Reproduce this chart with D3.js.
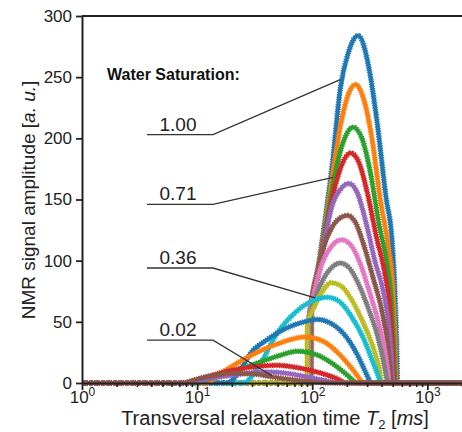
<!DOCTYPE html>
<html>
<head>
<meta charset="utf-8">
<script src="https://cdn.jsdelivr.net/npm/d3@7"></script>
<style>
  body { margin: 0; background: #fff; }
  text { font-family: "Liberation Sans", Arial, sans-serif; }
</style>
</head>
<body>
<div id="chart"></div>
<script>
// Data: each curve is a list of [T2 (ms), amplitude (a.u.)]
const curve01 = [[1,0],[98,0],[99,62],[115,100],[130,135],[150,180],[175,240],[206,270],[250,284],[313,256],[364,215],[440,150],[490,120],[520,80],[540,35],[552,0],[2000,0]]
const curve02 = [[1,0],[97,0],[98,60],[115,98],[130,130],[150,170],[180,215],[206,236],[237,244],[280,232],[330,200],[390,150],[460,110],[500,80],[522,40],[538,0],[2000,0]]
const curve03 = [[1,0],[96,0],[97,58],[115,96],[130,126],[150,160],[180,193],[227,209],[270,200],[320,172],[380,130],[450,95],[490,65],[512,30],[525,0],[2000,0]]
const curve04 = [[1,0],[95,0],[96,56],[115,94],[130,122],[150,152],[180,178],[215,188],[255,180],[300,156],[360,120],[430,88],[475,60],[500,28],[515,0],[2000,0]]
const curve05 = [[1,0],[94,0],[95,54],[115,92],[130,120],[150,146],[175,158],[208,163],[245,156],[290,133],[350,100],[420,72],[465,45],[490,18],[503,0],[2000,0]]
const curve06 = [[1,0],[93,0],[94,52],[110,86],[125,110],[150,128],[175,135],[202,137],[235,132],[280,113],[340,85],[405,58],[450,33],[475,12],[488,0],[2000,0]]
const curve07 = [[1,0],[92,0],[93,50],[105,76],[120,96],[145,111],[180,117],[215,113],[260,98],[320,72],[380,48],[430,25],[455,8],[465,0],[2000,0]]
const curve08 = [[1,0],[91,0],[92,48],[105,68],[125,85],[150,95],[175,98],[210,94],[255,80],[310,60],[370,38],[415,18],[440,5],[450,0],[2000,0]]
const curve09 = [[1,0],[90,0],[91,47],[105,63],[125,76],[145,82],[180,79],[220,68],[275,50],[330,32],[380,13],[405,0],[2000,0]]
const curve10 = [[1,0],[25,0],[35,15],[49,40],[70,57],[100,67],[135,70],[175,66],[220,54],[280,36],[340,16],[380,4],[392,0],[2000,0]]
const curve11 = [[1,0],[18,0],[25,14],[29,24],[40,35],[60,45],[85,50],[110,52],[150,48],[200,37],[250,22],[290,9],[315,2],[330,0],[2000,0]]
const curve12 = [[1,0],[12,0],[16,8],[19.5,13],[30,23],[50,32],[87,37.6],[125,34],[170,24],[220,12],[260,3],[277,0],[2000,0]]
const curve13 = [[1,0],[10,0],[14,5],[20,9],[35,17],[50,22],[75,26],[110,23],[160,14],[210,5],[245,0],[2000,0]]
const curve14 = [[1,0],[8,0],[11,4],[15,7.5],[20.6,10.6],[30,13],[49,14.5],[80,12],[120,8],[160,4],[200,0],[2000,0]]
const curve15 = [[1,0],[8,0],[11,2.5],[16,5],[25,7.5],[40,9],[60,8],[90,5],[130,2],[170,0],[2000,0]]
const curve16 = [[1,0],[7.5,0],[9,2],[12,5],[16,7],[20,8],[30,7.5],[45,5],[70,2.5],[110,0.5],[140,0],[2000,0]]
const curves = [curve01, curve02, curve03, curve04, curve05, curve06, curve07, curve08,
                curve09, curve10, curve11, curve12, curve13, curve14, curve15, curve16]

// Annotation: label text, level of its underline (a.u.), point it aims at [T2, a.u.]
const satLabels = ['1.00', '0.71', '0.36', '0.02']
const satLevels = [203, 146, 94, 35]
const satTargets = [[175, 248], [152, 168], [106, 69.5], [45, 5.7]]

const yTicks = [0, 50, 100, 150, 200, 250, 300]
const xMajorTicks = [1, 10, 100, 1000]

// Dimensions
const width = 462
const height = 432
const plot = { left: 82, top: 16, right: 462, bottom: 383 }

const svg = d3.select('#chart')
  .append('svg')
  .attr('width', width)
  .attr('height', height)

// Scales
const xScale = d3.scaleLog()
  .domain([1, 2000])
  .range([plot.left, plot.right])

const yScale = d3.scaleLinear()
  .domain([0, 300])
  .range([plot.bottom, plot.top])

const color = d3.scaleOrdinal(d3.schemeCategory10)

svg.append('clipPath').attr('id', 'clip')
  .append('rect')
  .attr('x', plot.left).attr('y', plot.top - 4)
  .attr('width', plot.right - plot.left).attr('height', plot.bottom - plot.top + 8)

// Curves
const line = d3.line()
  .x(d => xScale(d[0]))
  .y(d => yScale(d[1]))
  .curve(d3.curveMonotoneX)

const curveGroup = svg.append('g').attr('clip-path', 'url(#clip)')
curves.forEach((c, i) => {
  // star markers give a ragged edge: dashed wide stroke under a solid one
  curveGroup.append('path')
    .datum(c)
    .attr('d', line)
    .attr('fill', 'none')
    .attr('stroke', color(i % 10))
    .attr('stroke-width', 5.6)
    .attr('stroke-dasharray', '1.2,1.2')
  curveGroup.append('path')
    .datum(c)
    .attr('d', line)
    .attr('fill', 'none')
    .attr('stroke', color(i % 10))
    .attr('stroke-width', 4)
    .attr('stroke-linejoin', 'round')
})

// Axes
const axisColor = '#222'

const xMinor = []
for (let e = 0; e < 4; e++) {
  for (let m = 2; m <= 9; m++) {
    const v = m * Math.pow(10, e)
    if (v <= 2000) xMinor.push(v)
  }
}

svg.append('g')
  .attr('transform', `translate(0, ${plot.bottom})`)
  .call(d3.axisBottom(xScale).tickValues(xMinor).tickSize(4).tickSizeOuter(0).tickFormat(''))
  .call(g => g.select('.domain').remove())
  .call(g => g.selectAll('line').attr('stroke', axisColor).attr('stroke-width', 1.6))

const xAxisGroup = svg.append('g')
  .attr('transform', `translate(0, ${plot.bottom})`)
  .call(d3.axisBottom(xScale).tickValues(xMajorTicks).tickSize(7).tickSizeOuter(0).tickPadding(4))
xAxisGroup.select('.domain').attr('stroke', axisColor).attr('stroke-width', 2)
xAxisGroup.selectAll('line').attr('stroke', axisColor).attr('stroke-width', 1.8)
xAxisGroup.selectAll('text')
  .attr('fill', '#222')
  .attr('font-size', 17)
  .attr('dy', '0.55em')
  .each(function (d) {
    const t = d3.select(this)
    t.text('')
    t.append('tspan').text('10')
    t.append('tspan').attr('dy', -7).attr('font-size', 12).text(Math.round(Math.log10(d)))
  })

const yAxisGroup = svg.append('g')
  .attr('transform', `translate(${plot.left}, 0)`)
  .call(d3.axisLeft(yScale).tickValues(yTicks).tickSize(6).tickSizeOuter(0).tickPadding(4))
yAxisGroup.select('.domain').attr('stroke', axisColor).attr('stroke-width', 2)
yAxisGroup.selectAll('line').attr('stroke', axisColor).attr('stroke-width', 1.8)
yAxisGroup.selectAll('text').attr('fill', '#222').attr('font-size', 17)

// top spine
svg.append('line')
  .attr('x1', plot.left).attr('x2', plot.right)
  .attr('y1', yScale(300)).attr('y2', yScale(300))
  .attr('stroke', axisColor).attr('stroke-width', 2)

// Axis titles
const xTitle = svg.append('text')
  .attr('x', 275).attr('y', 425)
  .attr('text-anchor', 'middle')
  .attr('font-size', 20)
  .attr('fill', '#222')
xTitle.append('tspan').text('Transversal relaxation time ')
xTitle.append('tspan').attr('font-style', 'italic').text('T')
xTitle.append('tspan').attr('dy', 4).attr('font-size', 13).text('2')
xTitle.append('tspan').attr('dy', -4).text(' [')
xTitle.append('tspan').attr('font-style', 'italic').text('ms')
xTitle.append('tspan').text(']')

const yTitle = svg.append('text')
  .attr('transform', 'translate(35, 200) rotate(-90)')
  .attr('text-anchor', 'middle')
  .attr('font-size', 19)
  .attr('fill', '#222')
yTitle.append('tspan').text('NMR signal amplitude [')
yTitle.append('tspan').attr('font-style', 'italic').text('a. u.')
yTitle.append('tspan').text(']')

// Water saturation annotations
svg.append('text')
  .attr('x', 107).attr('y', 80)
  .attr('font-size', 16)
  .attr('font-weight', 'bold')
  .attr('fill', '#111')
  .text('Water Saturation:')

const lineStartX = 147
const lineKneeX = 213
satLabels.forEach((lab, i) => {
  const yl = yScale(satLevels[i])
  svg.append('path')
    .attr('d', d3.line()([[lineStartX, yl], [lineKneeX, yl],
      [xScale(satTargets[i][0]), yScale(satTargets[i][1])]]))
    .attr('fill', 'none')
    .attr('stroke', '#333')
    .attr('stroke-width', 1.3)
  svg.append('text')
    .attr('x', 178).attr('y', yl - 4)
    .attr('text-anchor', 'middle')
    .attr('font-size', 19)
    .attr('fill', '#222')
    .text(lab)
})
</script>
</body>
</html>
